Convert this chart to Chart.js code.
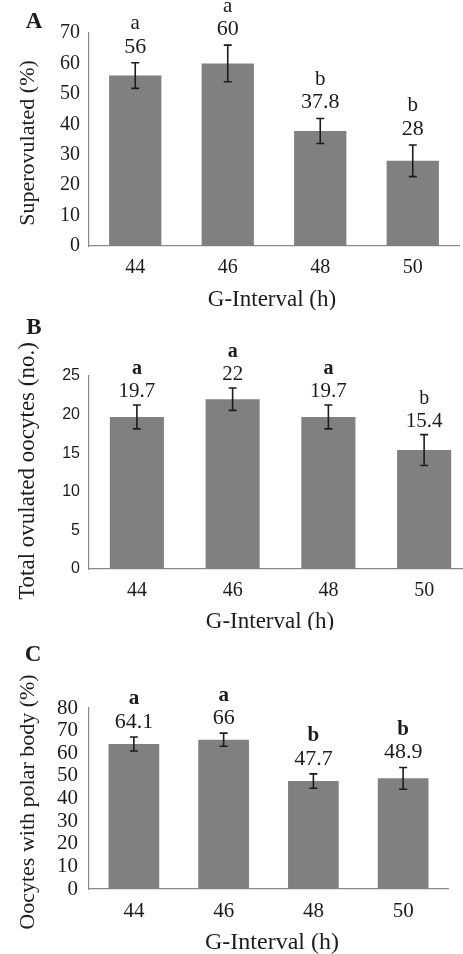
<!DOCTYPE html>
<html>
<head>
<meta charset="utf-8">
<script src="https://cdn.jsdelivr.net/npm/chart.js@4.4.1/dist/chart.umd.min.js"></script>
<style>
  html, body { margin: 0; padding: 0; background: #fff; overflow: hidden; }
  #wrap { position: relative; width: 463px; height: 954px; overflow: hidden; }
  .panel { position: absolute; left: 0; }
</style>
</head>
<body>
<div id="wrap">
  <div class="panel" style="top:0"><canvas id="chartA" width="480" height="310"></canvas></div>
  <div class="panel" style="top:310px"><canvas id="chartB" width="480" height="320"></canvas></div>
  <div class="panel" style="top:620px"><canvas id="chartC" width="480" height="334"></canvas></div>
</div>
<script>
// data
const categories = ['44', '46', '48', '50'];

const superovulated = [56, 60, 37.8, 28];
const superovulatedErr = [4.2, 6, 4.1, 5.2];
const superovulatedGroups = ['a', 'a', 'b', 'b'];
const superovulatedTicks = [0, 10, 20, 30, 40, 50, 60, 70];

const ovulated = [19.7, 22, 19.7, 15.4];
const ovulatedErr = [1.55, 1.45, 1.55, 2.0];
const ovulatedGroups = ['a', 'a', 'a', 'b'];
const ovulatedTicks = [0, 5, 10, 15, 20, 25];

const polarBody = [64.1, 66, 47.7, 48.9];
const polarBodyErr = [3.1, 2.9, 3.2, 4.8];
const polarBodyGroups = ['a', 'a', 'b', 'b'];
const polarBodyTicks = [0, 10, 20, 30, 40, 50, 60, 70, 80];

const SERIF = '"Liberation Serif", "Times New Roman", serif';
const SANS = '"Liberation Sans", Arial, sans-serif';
const INK = '#1c1c1c';

// error bars, group letters, value labels, panel letter and axis titles
const decoPlugin = {
  id: 'deco',
  afterDatasetsDraw(chart, args, o) {
    const ctx = chart.ctx;
    const y = chart.scales.y;
    const bars = chart.getDatasetMeta(0).data;
    ctx.save();
    bars.forEach((bar, i) => {
      const v = o.values[i], e = o.errors[i];
      const top = y.getPixelForValue(v + e);
      const bot = y.getPixelForValue(v - e);
      ctx.strokeStyle = INK;
      ctx.lineWidth = 1.6;
      ctx.beginPath();
      ctx.moveTo(bar.x, top); ctx.lineTo(bar.x, bot);
      ctx.moveTo(bar.x - 4, top); ctx.lineTo(bar.x + 4, top);
      ctx.moveTo(bar.x - 4, bot); ctx.lineTo(bar.x + 4, bot);
      ctx.stroke();

      ctx.fillStyle = INK;
      ctx.textAlign = 'center';
      ctx.textBaseline = 'middle';
      const vy = top - o.valueGap;
      ctx.font = o.valueFont;
      ctx.fillText(String(v), bar.x, vy);
      ctx.font = o.groupBold[i] ? 'bold ' + o.groupFont : o.groupFont;
      ctx.fillText(o.groups[i], bar.x, vy - o.groupGap);
    });
    ctx.restore();
  },
  afterDraw(chart, args, o) {
    const ctx = chart.ctx;
    ctx.save();
    ctx.fillStyle = INK;
    ctx.textAlign = 'center';
    ctx.textBaseline = 'middle';
    ctx.font = 'bold 23px ' + SERIF;
    ctx.fillText(o.letter, o.letterX, o.letterY);

    ctx.font = o.titleFont;
    ctx.fillText('G-Interval (h)', o.xTitleX, o.xTitleY);

    ctx.font = o.yTitleFont;
    ctx.translate(o.yTitleX, o.yTitleY);
    ctx.rotate(-Math.PI / 2);
    ctx.fillText(o.yTitle, 0, 0);
    ctx.restore();
  }
};

function makePanel(id, p) {
  const canvas = document.getElementById(id);
  const W = canvas.width, H = canvas.height;
  new Chart(canvas.getContext('2d'), {
    type: 'bar',
    data: {
      labels: categories,
      datasets: [{
        data: p.values,
        backgroundColor: '#808080',
        borderWidth: 0,
        categoryPercentage: 1,
        barPercentage: 0.565
      }]
    },
    options: {
      responsive: false,
      animation: false,
      events: [],
      layout: { padding: { top: p.top, right: W - p.right, bottom: 0, left: 0 } },
      plugins: {
        legend: { display: false },
        tooltip: { enabled: false },
        deco: {
          values: p.values, errors: p.errors, groups: p.groups, groupBold: p.groupBold,
          valueFont: p.valueFont, groupFont: p.groupFont,
          valueGap: p.valueGap, groupGap: p.groupGap,
          letter: p.letter, letterX: p.letterX, letterY: p.letterY,
          titleFont: p.titleFont, xTitleX: p.xTitleX, xTitleY: p.xTitleY,
          yTitle: p.yTitle, yTitleFont: p.yTitleFont, yTitleX: p.yTitleX, yTitleY: p.yTitleY
        }
      },
      scales: {
        x: {
          grid: { display: false, drawTicks: false },
          border: { display: true, color: '#8a8a8a', width: 1.2 },
          ticks: { color: INK, font: { family: SERIF, size: p.xTickSize }, padding: p.xTickPad },
          afterFit(s) { s.height = H - p.bottom; }
        },
        y: {
          min: p.ticks[0],
          max: p.ticks[p.ticks.length - 1],
          grid: { display: false, drawTicks: false },
          border: { display: true, color: '#8a8a8a', width: 1.2 },
          ticks: { color: INK, autoSkip: false, font: { family: p.yTickFamily, size: p.yTickSize }, padding: p.yTickPad },
          afterBuildTicks(s) { s.ticks = p.ticks.map(v => ({ value: v })); },
          afterFit(s) { s.width = p.left; }
        }
      }
    },
    plugins: [decoPlugin]
  });
}

makePanel('chartA', {
  values: superovulated, errors: superovulatedErr, groups: superovulatedGroups,
  groupBold: [false, false, false, false], ticks: superovulatedTicks,
  left: 89, top: 33, right: 459, bottom: 246,
  yTickFamily: SERIF, yTickSize: 20, yTickPad: 9, xTickSize: 20, xTickPad: 10,
  valueFont: '22px ' + SERIF, groupFont: '21px ' + SERIF, valueGap: 16, groupGap: 23,
  letter: 'A', letterX: 34, letterY: 22,
  titleFont: '23px ' + SERIF, xTitleX: 272, xTitleY: 300,
  yTitle: 'Superovulated (%)', yTitleFont: '22px ' + SERIF, yTitleX: 28, yTitleY: 143
});

makePanel('chartB', {
  values: ovulated, errors: ovulatedErr, groups: ovulatedGroups,
  groupBold: [true, true, true, false], ticks: ovulatedTicks,
  left: 89, top: 66, right: 472, bottom: 259,
  yTickFamily: SANS, yTickSize: 16, yTickPad: 9, xTickSize: 20, xTickPad: 10,
  valueFont: '21px ' + SERIF, groupFont: '20px ' + SERIF, valueGap: 13, groupGap: 23,
  letter: 'B', letterX: 34, letterY: 18,
  titleFont: '23px ' + SERIF, xTitleX: 270, xTitleY: 312,
  yTitle: 'Total ovulated oocytes (no.)', yTitleFont: '23px ' + SERIF, yTitleX: 28, yTitleY: 161
});

makePanel('chartC', {
  values: polarBody, errors: polarBodyErr, groups: polarBodyGroups,
  groupBold: [true, true, true, true], ticks: polarBodyTicks,
  left: 89, top: 88, right: 448, bottom: 269,
  yTickFamily: SERIF, yTickSize: 21, yTickPad: 11, xTickSize: 21, xTickPad: 10,
  valueFont: '22px ' + SERIF, groupFont: '21px ' + SERIF, valueGap: 15, groupGap: 23,
  letter: 'C', letterX: 33, letterY: 35,
  titleFont: '24px ' + SERIF, xTitleX: 272, xTitleY: 323,
  yTitle: 'Oocytes with polar body (%)', yTitleFont: '22px ' + SERIF, yTitleX: 28, yTitleY: 182
});
</script>
</body>
</html>
